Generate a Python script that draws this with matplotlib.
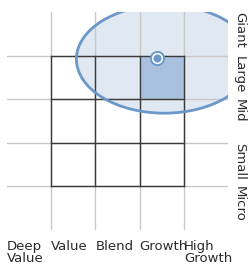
import matplotlib.pyplot as plt
from matplotlib.patches import Ellipse, Rectangle

plt.rcParams['font.family'] = ['Liberation Sans Narrow', 'DejaVu Sans']

# style columns (left to right) and size rows (top to bottom)
style_labels = ['Deep\nValue', 'Value', 'Blend', 'Growth', 'High\nGrowth']
size_labels = ['Giant', 'Large', 'Mid', 'Small', 'Micro']

# ownership zone and centroid, in grid units (x: style, y: size from bottom)
zone_center = (3.56, 3.92)
zone_width = 3.98
zone_height = 2.48
centroid = (3.39, 3.945)

# highlighted cell: Growth / Large
cell_col = 3
cell_row = 3

grid_gray = '#c9c9c9'
box_dark = '#3a3a3a'
zone_fill = '#e0e8f2'
zone_edge = '#6b98c8'
cell_fill = '#a9c1de'
text_color = '#2a2a2a'


def main():
    fig = plt.figure(figsize=(2.5, 2.65), dpi=100)
    ax = fig.add_axes([0.028, 0.132, 0.884, 0.8226])
    ax.set_xlim(0, 5)
    ax.set_ylim(0, 5)
    ax.axis('off')

    # ownership zone fill
    ax.add_patch(Ellipse(zone_center, zone_width, zone_height,
                         facecolor=zone_fill, edgecolor='none', zorder=1))
    ax.add_patch(Rectangle((cell_col, cell_row), 1, 1,
                           facecolor=cell_fill, edgecolor='none', zorder=2))

    # light grid
    for i in range(1, 5):
        ax.plot([i, i], [0, 5], color=grid_gray, lw=1, zorder=3)
        ax.plot([0, 5], [i, i], color=grid_gray, lw=1, zorder=3)

    # dark 3x3 style box
    for i in range(1, 5):
        ax.plot([i, i], [1, 4], color=box_dark, lw=1, zorder=4)
        ax.plot([1, 4], [i, i], color=box_dark, lw=1, zorder=4)

    # ownership zone outline
    ax.add_patch(Ellipse(zone_center, zone_width, zone_height,
                         facecolor='none', edgecolor=zone_edge, lw=2, zorder=5))

    # centroid
    ax.plot(*centroid, 'o', ms=9.5, mfc='white', mec=zone_edge, mew=1.4, zorder=6)
    ax.plot(*centroid, 'o', ms=5.8, mfc=zone_edge, mec='none', zorder=7)

    for i, lab in enumerate(style_labels):
        ax.text(i, -0.23, lab, ha='left', va='top', fontsize=9.5,
                color=text_color, linespacing=0.85, clip_on=False)

    for i, lab in enumerate(size_labels):
        ax.text(5.11, 5 - i, lab, ha='left', va='top', rotation=270,
                fontsize=9.5, color=text_color, clip_on=False)

    fig.savefig('out.png', dpi=100)


if __name__ == '__main__':
    main()
